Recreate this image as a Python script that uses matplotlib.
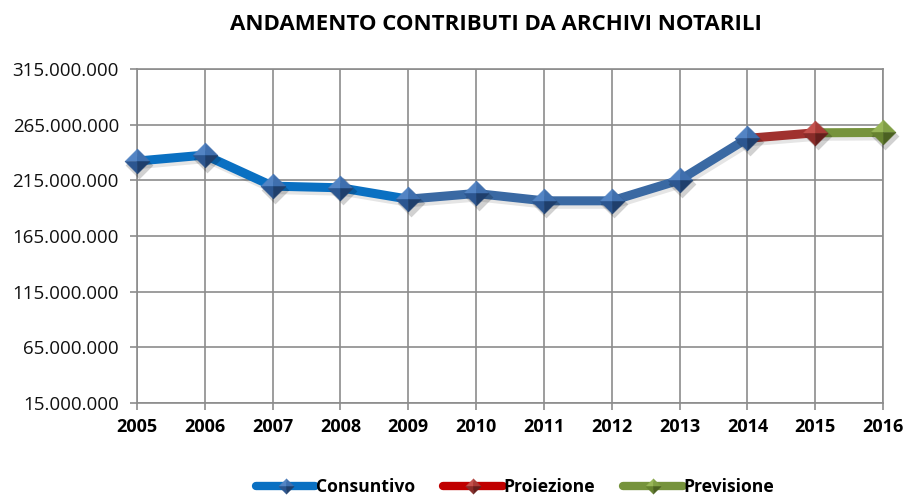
import matplotlib
matplotlib.use("Agg")
import matplotlib.pyplot as plt
import matplotlib.patheffects as pe
import matplotlib.transforms as mtrans
from matplotlib.lines import Line2D
from matplotlib.path import Path
from matplotlib.legend_handler import HandlerBase
from matplotlib.ticker import FuncFormatter

years = [2005, 2006, 2007, 2008, 2009, 2010, 2011, 2012, 2013, 2014, 2015, 2016]
consuntivo = [232.3e6, 237.7e6, 209.8e6, 208.3e6, 198.1e6, 203.2e6, 196.6e6, 196.6e6, 215.2e6, 252.7e6]
proiezione_years = [2014, 2015]
proiezione = [252.7e6, 257.7e6]
previsione_years = [2015, 2016]
previsione = [257.7e6, 258.0e6]
yticks = [15e6, 65e6, 115e6, 165e6, 215e6, 265e6, 315e6]
series_names = ['Consuntivo', 'Proiezione', 'Previsione']

plt.rcParams['font.family'] = ['Open Sans', 'DejaVu Sans']

fig = plt.figure(figsize=(9.07, 4.97), dpi=100)
ax = fig.add_axes([137/907, 1-403/497, (883-137)/907, (403-69)/497])

blue1 = '#0a70c2'
blue2 = '#3a69a3'
red = '#a0312e'
green = '#76933c'

facets = {
    'blue': ['#5384c4', '#3f6fae', '#2c5690', '#1f3f6c'],
    'red': ['#c4514c', '#a83b37', '#8a2c29', '#661e1c'],
    'green': ['#98b657', '#809f44', '#66822f', '#4b6121'],
}
F_TL = Path([(0, 0), (-1, 0), (0, 1), (0, 0)])
F_TR = Path([(0, 0), (0, 1), (1, 0), (0, 0)])
F_BL = Path([(0, 0), (-1, 0), (0, -1), (0, 0)])
F_BR = Path([(0, 0), (0, -1), (1, 0), (0, 0)])
DIAM = Path([(-1, 0), (0, 1), (1, 0), (0, -1), (-1, 0)])

shadow_tr = mtrans.offset_copy(ax.transData, fig=fig, x=2.5, y=-3.5, units='dots')


def pyramid(axx, xs, ys, key, ms, z=5):
    c = facets[key]
    axx.plot(xs, ys, ls='none', marker=DIAM, ms=ms + 2, mfc='k', mec='none', alpha=0.18,
             zorder=z - 0.5, transform=shadow_tr, clip_on=False)
    for path, col in zip([F_TL, F_TR, F_BL, F_BR], c):
        axx.plot(xs, ys, ls='none', marker=path, ms=ms, mfc=col, mec=col, mew=0.3, zorder=z, clip_on=False)


lw = 6.5
sh = [pe.SimpleLineShadow(offset=(1.5, -2.5), shadow_color='k', alpha=0.1), pe.Normal()]
cy = consuntivo
ax.plot(years[:5], cy[:5], color=blue1, lw=lw, solid_capstyle='butt', zorder=3, path_effects=sh)
ax.plot(years[4:10], cy[4:10], color=blue2, lw=lw, solid_capstyle='butt', zorder=3, path_effects=sh)
ax.plot(proiezione_years, proiezione, color=red, lw=lw, solid_capstyle='butt', zorder=3, path_effects=sh)
ax.plot(previsione_years, previsione, color=green, lw=lw, solid_capstyle='butt', zorder=3, path_effects=sh)

ms = 18
pyramid(ax, years[:10], cy, 'blue', ms)
pyramid(ax, [proiezione_years[1]], [proiezione[1]], 'red', ms)
pyramid(ax, [previsione_years[1]], [previsione[1]], 'green', ms)

ax.set_xlim(2005, 2016)
ax.set_ylim(15e6, 315e6)
ax.set_xticks(years)
ax.set_xticklabels([str(y) for y in years], fontweight='bold', fontsize=13)
ax.set_yticks(yticks)
ax.yaxis.set_major_formatter(FuncFormatter(lambda v, p: f"{int(round(v)):,}".replace(',', '.')))
ax.tick_params(axis='y', labelsize=13.5, length=5, color='#8c8c8c', width=1.2, pad=8)
ax.tick_params(axis='x', length=5, color='#8c8c8c', width=1.2, pad=6)
ax.grid(True, color='#8c8c8c', lw=1.2)
ax.set_axisbelow(True)
for s in ax.spines.values():
    s.set_color('#8c8c8c')
    s.set_linewidth(1.2)
for lab in ax.get_yticklabels():
    lab.set_color('#111111')

fig.text(496/907, 1-24/497, 'ANDAMENTO CONTRIBUTI DA ARCHIVI NOTARILI', ha='center', va='center',
         fontsize=16, fontweight='bold')


class PyramidHandler(HandlerBase):
    def __init__(self, linecolor, key):
        super().__init__()
        self.linecolor = linecolor
        self.key = key

    def create_artists(self, legend, orig_handle, xdescent, ydescent, width, height, fontsize, trans):
        y = height / 2 - ydescent
        arts = []
        ln = Line2D([-xdescent, width - xdescent], [y, y], color=self.linecolor, lw=6, solid_capstyle='round')
        ln.set_transform(trans)
        arts.append(ln)
        cx = width / 2 - xdescent
        for path, col in zip([F_TL, F_TR, F_BL, F_BR], facets[self.key]):
            m = Line2D([cx], [y], ls='none', marker=path, ms=11, mfc=col, mec=col, mew=0.3)
            m.set_transform(trans)
            arts.append(m)
        return arts


h1, h2, h3 = Line2D([], []), Line2D([], []), Line2D([], [])
fig.legend([h1, h2, h3], series_names, loc='center', bbox_to_anchor=(0.568, 1-487/497),
           ncol=3, frameon=False, prop={'weight': 'bold', 'size': 12.6}, handlelength=3.4,
           handletextpad=0.05, columnspacing=1.6,
           handler_map={h1: PyramidHandler('#0a70c2', 'blue'), h2: PyramidHandler('#c00000', 'red'),
                        h3: PyramidHandler('#76933c', 'green')})

fig.savefig('out.png', dpi=100)
